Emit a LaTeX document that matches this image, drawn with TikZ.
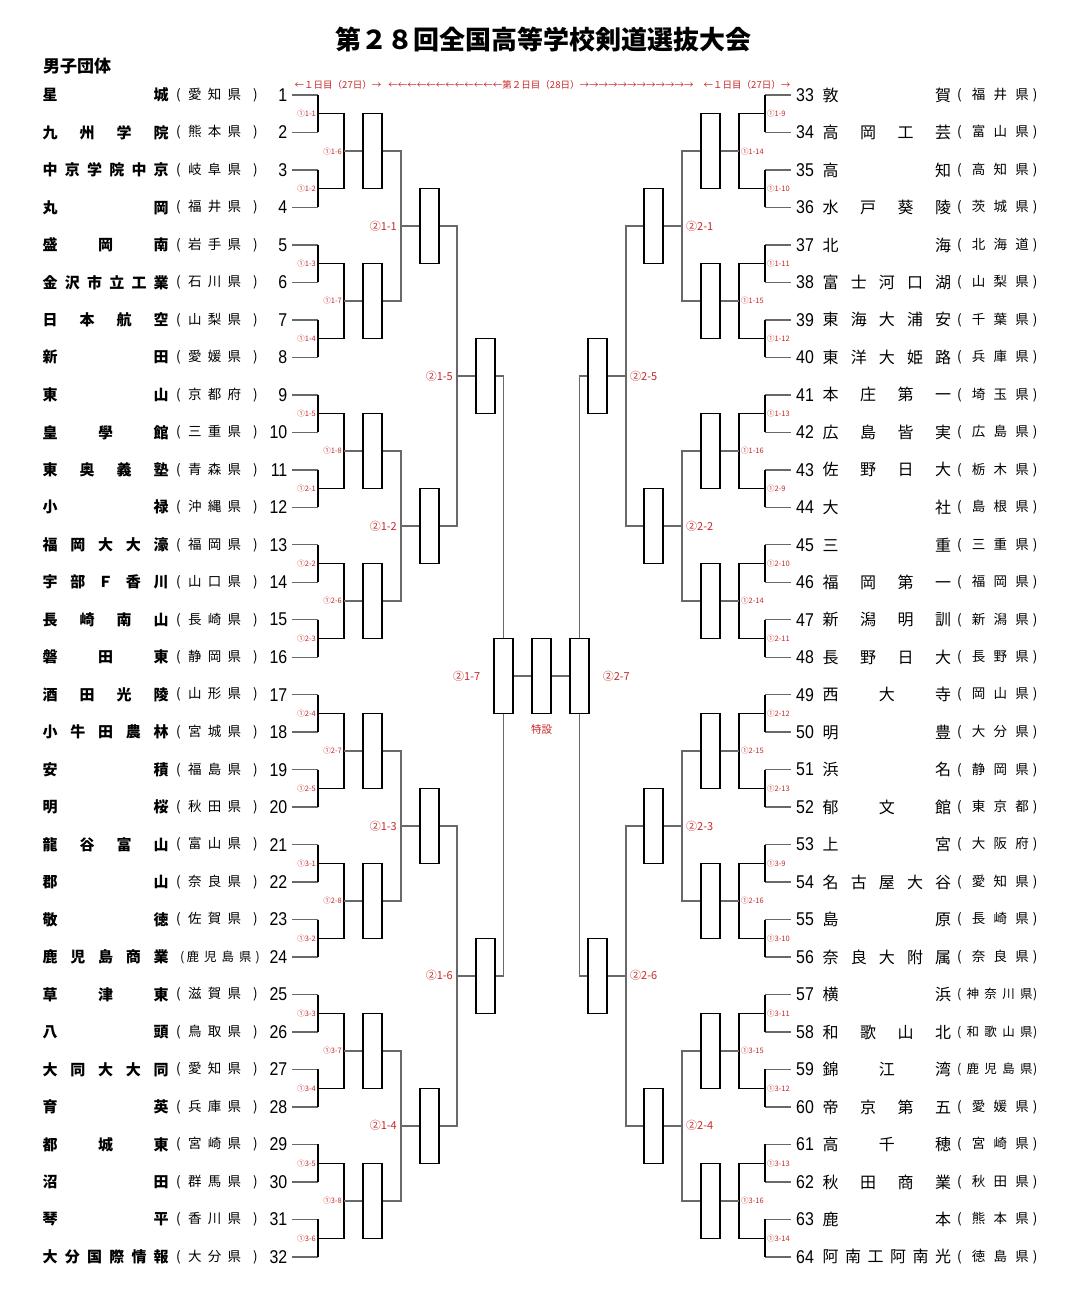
\documentclass[tikz,border=0pt]{standalone}
\usepackage{fontspec}
\setmainfont{Liberation Sans}
\newfontfamily\cjk{Noto Sans CJK JP}
\newfontfamily\numfont[FakeStretch=0.86]{Liberation Sans}
\usetikzlibrary{positioning}

\definecolor{lblred}{RGB}{200,40,40}
\definecolor{linegray}{RGB}{105,105,105}

% spread the characters of a name over a fixed width
\def\endspread{}
\def\spreadA#1{#1\spreadB}
\def\spreadB#1{\ifx#1\endspread\else\hfill#1\expandafter\spreadB\fi}
\newcommand\spreadbox[2]{\hbox to #1{\expandafter\spreadA#2\endspread}}
\def\testfour#1#2#3#4\relax{\def\fourth{#4}}
\newcommand\prefleft[1]{\expandafter\testfour#1\relax
  \ifx\fourth\empty
    \hbox{(\hskip7.4pt\spreadbox{53pt}{#1}\hskip12pt)}%
  \else
    {\fontsize{12.5}{13}\selectfont\hbox{\hskip4pt(\hskip2.2pt\spreadbox{65pt}{#1}\hskip4pt)}}%
  \fi}
\newcommand\prefright[1]{\expandafter\testfour#1\relax
  \ifx\fourth\empty
    \hbox{(\hskip10pt\spreadbox{57pt}{#1}\hskip4pt)}%
  \else
    {\fontsize{12.5}{13}\selectfont\hbox{(\hskip5.2pt\spreadbox{66pt}{#1}\hskip0.5pt)}}%
  \fi}

\begin{document}
\begin{tikzpicture}[x=1pt,y=-1pt,
    teamline/.style={draw=linegray,line width=1.4pt},
    brkline/.style={draw=black,line width=1.1pt},
    outline/.style={draw=linegray,line width=1.7pt},
    matchbox/.style={draw=black,line width=1.1pt,fill=white,minimum width=19pt,
      minimum height=75pt,inner sep=0pt},
    numtxt/.style={font=\numfont\fontsize{18.5}{19}\selectfont,inner sep=0pt},
    nametxt/.style={inner sep=0pt},
    preftxt/.style={font=\cjk\fontsize{13.5}{14}\selectfont,inner sep=0pt},
    daytxt/.style={text=lblred,font=\cjk\fontsize{9.5}{10}\selectfont,inner sep=0pt},
    lbltiny/.style={text=lblred,font=\cjk\fontsize{7.5}{8}\selectfont,inner sep=0pt},
    lblbig/.style={text=lblred,font=\cjk\fontsize{11}{12}\selectfont,inner sep=0pt}]
  \useasboundingbox (0,0) rectangle (1073,1297);
  \fill[white] (0,0) rectangle (1073,1297);

  \node[font=\cjk\bfseries\fontsize{26}{28}\selectfont] (title) at (543,40)
    {第２８回全国高等学校剣道選抜大会};
  \node[font=\cjk\bfseries\fontsize{17}{18}\selectfont,anchor=west,inner sep=0pt]
    (event) at (43,66) {男子団体};
  \node[daytxt] (dayl) at (338,85) {←１日目（27日）→};
  \node[daytxt] (daymid) at (541,85)
    {←←←←←←←←←←←←第２日目（28日）→→→→→→→→→→→→};
  \node[daytxt] (dayr) at (747,85) {←１日目（27日）→};

  % teams
  \foreach \nm/\pf [count=\i] in {星城/愛知県,九州学院/熊本県,中京学院中京/岐阜県,%
      丸岡/福井県,盛岡南/岩手県,金沢市立工業/石川県,日本航空/山梨県,新田/愛媛県,%
      東山/京都府,皇學館/三重県,東奥義塾/青森県,小禄/沖縄県,福岡大大濠/福岡県,%
      宇部Ｆ香川/山口県,長崎南山/長崎県,磐田東/静岡県,酒田光陵/山形県,%
      小牛田農林/宮城県,安積/福島県,明桜/秋田県,龍谷富山/富山県,郡山/奈良県,%
      敬徳/佐賀県,鹿児島商業/鹿児島県,草津東/滋賀県,八頭/鳥取県,大同大大同/愛知県,%
      育英/兵庫県,都城東/宮崎県,沼田/群馬県,琴平/香川県,大分国際情報/大分県,%
      敦賀/福井県,高岡工芸/富山県,高知/高知県,水戸葵陵/茨城県,北海/北海道,%
      富士河口湖/山梨県,東海大浦安/千葉県,東洋大姫路/兵庫県,本庄第一/埼玉県,%
      広島皆実/広島県,佐野日大/栃木県,大社/島根県,三重/三重県,福岡第一/福岡県,%
      新潟明訓/新潟県,長野日大/長野県,西大寺/岡山県,明豊/大分県,浜名/静岡県,%
      郁文館/東京都,上宮/大阪府,名古屋大谷/愛知県,島原/長崎県,奈良大附属/奈良県,%
      横浜/神奈川県,和歌山北/和歌山県,錦江湾/鹿児島県,帝京第五/愛媛県,%
      高千穂/宮崎県,秋田商業/秋田県,鹿本/熊本県,阿南工阿南光/徳島県} {
    \pgfmathsetmacro\yy{95+mod(\i-1,32)*37.48}
    \ifnum\i<33
      \node[numtxt,anchor=east] (n\i) at (287.5,\yy) {\i};
      \node[nametxt,font=\cjk\bfseries\fontsize{15}{16}\selectfont,anchor=west]
        (nm\i) at (42.5,\yy) {\spreadbox{126pt}{\nm}};
      \node[preftxt,anchor=west] (pf\i) at (176,\yy) {\prefleft\pf};
      \coordinate (t\i) at (292,\yy);
    \else
      \node[numtxt,anchor=west] (n\i) at (796,\yy) {\i};
      \node[nametxt,font=\cjk\fontsize{16}{17}\selectfont,anchor=west]
        (nm\i) at (822.5,\yy) {\spreadbox{128.5pt}{\nm}};
      \node[preftxt,anchor=west] (pf\i) at (957,\yy) {\prefright\pf};
      \coordinate (t\i) at (791,\yy);
    \fi
  }

  % first round
  \foreach \lbl [count=\k] in {①1-1,①1-2,①1-3,①1-4,①1-5,①2-1,①2-2,①2-3,①2-4,①2-5,%
      ①3-1,①3-2,①3-3,①3-4,①3-5,①3-6,①1-9,①1-10,①1-11,①1-12,①1-13,①2-9,①2-10,%
      ①2-11,①2-12,①2-13,①3-9,①3-10,①3-11,①3-12,①3-13,①3-14} {
    \pgfmathtruncatemacro\ta{2*\k-1}
    \pgfmathtruncatemacro\tb{2*\k}
    \pgfmathsetmacro\yy{95+(mod(\ta-1,32)+0.5)*37.48}
    \ifnum\k>16 \def\xx{765}\def\lan{west}\def\sg{2}%
    \else \def\xx{318}\def\lan{east}\def\sg{-2}\fi
    \coordinate (a\k) at (\xx,\yy);
    \draw[teamline] (t\ta) -- (t\ta -| a\k) (t\tb) -- (t\tb -| a\k);
    \draw[brkline] (t\ta -| a\k) -- (t\tb -| a\k);
    \node[lbltiny,anchor=\lan] (la\k) at ([xshift=\sg pt]a\k) {\lbl};
  }

  % second round
  \foreach \lbl [count=\m] in {①1-6,①1-7,①1-8,①2-6,①2-7,①2-8,①3-7,①3-8,%
      ①1-14,①1-15,①1-16,①2-14,①2-15,①2-16,①3-15,①3-16} {
    \pgfmathtruncatemacro\pa{2*\m-1}
    \pgfmathtruncatemacro\pb{2*\m}
    \pgfmathsetmacro\yy{95+(mod(4*\m-4,32)+1.5)*37.48}
    \ifnum\m>8 \def\xx{739}\def\bx{710.5}\def\lan{west}\def\sg{2}\def\ain{east}%
    \else \def\xx{344}\def\bx{372.5}\def\lan{east}\def\sg{-2}\def\ain{west}\fi
    \coordinate (b\m) at (\xx,\yy);
    \node[matchbox] (bx\m) at (\bx,\yy) {};
    \draw[brkline] (a\pa) -| (b\m) |- (a\pb);
    \draw[outline] (b\m) -- (bx\m.\ain);
    \node[lbltiny,anchor=\lan] (lb\m) at ([xshift=\sg pt]b\m) {\lbl};
  }

  % third round
  \foreach \lbl [count=\n] in {②1-1,②1-2,②1-3,②1-4,②2-1,②2-2,②2-3,②2-4} {
    \pgfmathtruncatemacro\pa{2*\n-1}
    \pgfmathtruncatemacro\pb{2*\n}
    \pgfmathsetmacro\yy{95+(mod(8*\n-8,32)+3.5)*37.48}
    \ifnum\n>4 \def\xx{682}\def\bx{653.5}\def\lan{west}\def\sg{4}\def\ain{east}\def\aout{west}%
    \else \def\xx{401}\def\bx{429.5}\def\lan{east}\def\sg{-4}\def\ain{west}\def\aout{east}\fi
    \coordinate (c\n) at (\xx,\yy);
    \node[matchbox] (cx\n) at (\bx,\yy) {};
    \draw[outline] (bx\pa.\aout) -| (c\n) |- (bx\pb.\aout);
    \draw[outline] (c\n) -- (cx\n.\ain);
    \node[lblbig,anchor=\lan] (lc\n) at ([xshift=\sg pt]c\n) {\lbl};
  }

  % fourth round
  \foreach \lbl [count=\n] in {②1-5,②1-6,②2-5,②2-6} {
    \pgfmathtruncatemacro\pa{2*\n-1}
    \pgfmathtruncatemacro\pb{2*\n}
    \pgfmathsetmacro\yy{95+(mod(16*\n-16,32)+7.5)*37.48}
    \ifnum\n>2 \def\xx{626}\def\bx{597.5}\def\lan{west}\def\sg{4}\def\ain{east}\def\aout{west}%
    \else \def\xx{457}\def\bx{485.5}\def\lan{east}\def\sg{-4}\def\ain{west}\def\aout{east}\fi
    \coordinate (d\n) at (\xx,\yy);
    \node[matchbox] (dx\n) at (\bx,\yy) {};
    \draw[outline] (cx\pa.\aout) -| (d\n) |- (cx\pb.\aout);
    \draw[outline] (d\n) -- (dx\n.\ain);
    \node[lblbig,anchor=\lan] (ld\n) at ([xshift=\sg pt]d\n) {\lbl};
  }

  % final
  \node[matchbox] (fin1) at (503.5,675.94) {};
  \node[matchbox] (extra) at (541.5,675.94) {};
  \node[matchbox] (fin2) at (579.5,675.94) {};
  \draw[outline] (dx1.east) -| (fin1.north) (fin1.south) |- (dx2.east);
  \draw[outline] (dx3.west) -| (fin2.north) (fin2.south) |- (dx4.west);
  \draw[outline] (fin1) -- (extra) -- (fin2);
  \node[lblbig,left=13pt of fin1] (lfin1) {②1-7};
  \node[lblbig,right=13pt of fin2] (lfin2) {②2-7};
  \node[lblbig,font=\cjk\fontsize{10.5}{11}\selectfont,below=10pt of extra] (lextra) {特設};
\end{tikzpicture}
\end{document}
